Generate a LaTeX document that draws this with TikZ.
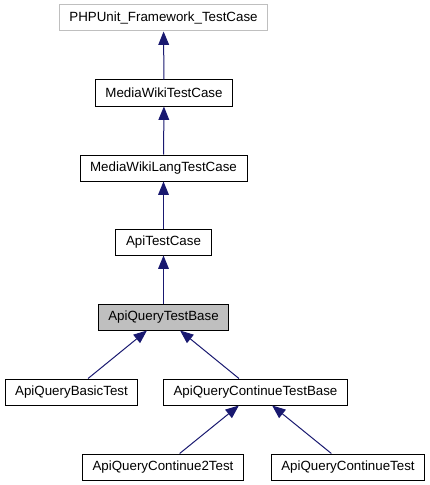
\documentclass[tikz,border=0pt]{standalone}
\usepackage{fontspec}
\setmainfont{Liberation Sans}
\usetikzlibrary{arrows.meta}
\definecolor{edgeblue}{HTML}{191970}
\definecolor{boxgray}{HTML}{BFBFBF}
\begin{document}
\begin{tikzpicture}[x=0.75pt, y=-0.75pt,
  box/.style={draw, line width=0.75pt, inner xsep=7.6pt, inner ysep=0pt, minimum height=19.5pt, font=\fontsize{10pt}{12pt}\selectfont},
  edge/.style={draw=edgeblue, line width=0.75pt, -{Triangle[length=10pt, width=8pt, fill=edgeblue]}}]
  \useasboundingbox (0,0) rectangle (429,485);
  \node[box, draw=boxgray] (phpunit) at (163.5,18) {PHPUnit\_Framework\_TestCase};
  \node[box] (mwtest) at (164,93) {MediaWikiTestCase};
  \node[box] (mwlang) at (163.5,168) {MediaWikiLangTestCase};
  \node[box] (apitest) at (163.5,242) {ApiTestCase};
  \node[box, fill=boxgray] (querybase) at (163.5,317) {ApiQueryTestBase};
  \node[box] (basic) at (71.5,392) {ApiQueryBasicTest};
  \node[box] (contbase) at (255.5,392) {ApiQueryContinueTestBase};
  \node[box] (cont2) at (163,467) {ApiQueryContinue2Test};
  \node[box] (cont) at (348,467) {ApiQueryContinueTest};
  \draw[edge] (mwtest) -- (phpunit);
  \draw[edge] (mwlang) -- (mwtest);
  \draw[edge] (apitest) -- (mwlang);
  \draw[edge] (querybase) -- (apitest);
  \draw[edge] (basic) -- (querybase);
  \draw[edge] (contbase) -- (querybase);
  \draw[edge] (cont2) -- (contbase);
  \draw[edge] (cont) -- (contbase);
\end{tikzpicture}
\end{document}
